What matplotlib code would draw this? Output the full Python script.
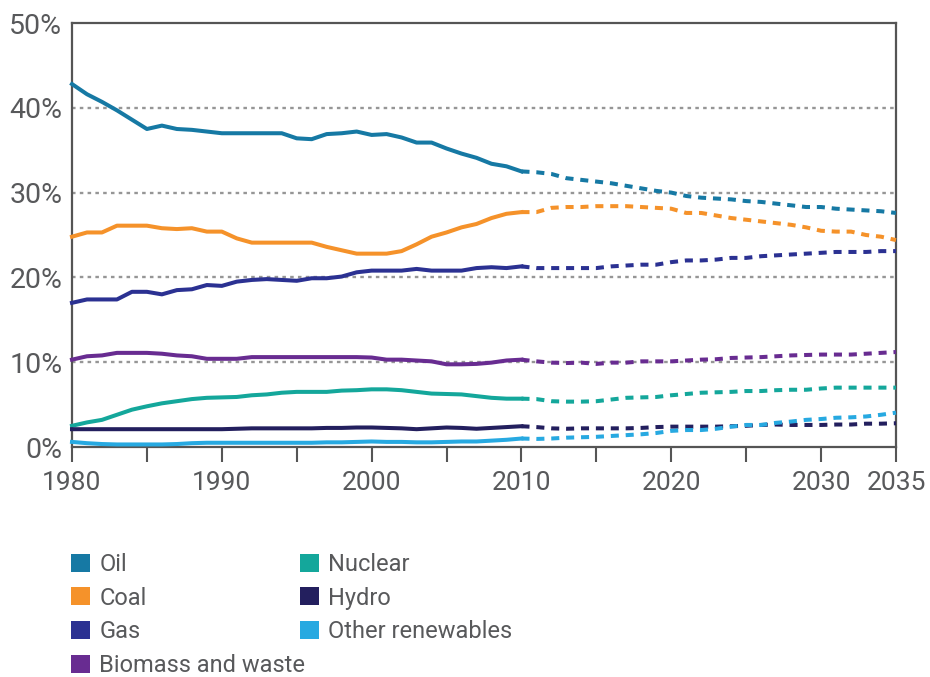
import numpy as np
import matplotlib
matplotlib.use("Agg")
import matplotlib.pyplot as plt
from matplotlib.patches import Patch

plt.rcParams["font.family"] = ["Roboto", "DejaVu Sans"]

# years
years_hist = np.arange(1980, 2011)
years_proj = np.arange(2010, 2036)

labels = ["Oil", "Coal", "Gas", "Biomass and waste", "Nuclear", "Hydro", "Other renewables"]
colors = ["#1679a4", "#f5922a", "#2b3192", "#682c91", "#14a79b", "#231f5e", "#27a9e1"]

# share of primary energy demand (%), 1980-2010
oil_hist = [42.8, 41.6, 40.7, 39.7, 38.6, 37.5, 37.9, 37.5, 37.4, 37.2,
            37.0, 37.0, 37.0, 37.0, 37.0, 36.4, 36.3, 36.9, 37.0, 37.2,
            36.8, 36.9, 36.5, 35.9, 35.9, 35.2, 34.6, 34.1, 33.4, 33.1, 32.5]
coal_hist = [24.8, 25.3, 25.3, 26.1, 26.1, 26.1, 25.8, 25.7, 25.8, 25.4,
             25.4, 24.6, 24.1, 24.1, 24.1, 24.1, 24.1, 23.6, 23.2, 22.8,
             22.8, 22.8, 23.1, 23.9, 24.8, 25.3, 25.9, 26.3, 27.0, 27.5, 27.7]
gas_hist = [17.0, 17.4, 17.4, 17.4, 18.3, 18.3, 18.0, 18.5, 18.6, 19.1,
            19.0, 19.5, 19.7, 19.8, 19.7, 19.6, 19.9, 19.9, 20.1, 20.6,
            20.8, 20.8, 20.8, 21.0, 20.8, 20.8, 20.8, 21.1, 21.2, 21.1, 21.3]
biomass_hist = [10.3, 10.7, 10.8, 11.1, 11.1, 11.1, 11.0, 10.8, 10.7, 10.4,
                10.4, 10.4, 10.6, 10.6, 10.6, 10.6, 10.6, 10.6, 10.6, 10.6,
                10.55, 10.3, 10.3, 10.2, 10.1, 9.75, 9.75, 9.8, 9.95, 10.2, 10.3]
nuclear_hist = [2.5, 2.9, 3.2, 3.8, 4.4, 4.8, 5.15, 5.4, 5.65, 5.8,
                5.85, 5.9, 6.1, 6.2, 6.4, 6.5, 6.5, 6.5, 6.65, 6.7,
                6.8, 6.8, 6.7, 6.5, 6.3, 6.25, 6.2, 6.0, 5.8, 5.7, 5.7]
hydro_hist = [2.1, 2.1, 2.1, 2.1, 2.1, 2.1, 2.1, 2.1, 2.1, 2.1,
              2.1, 2.15, 2.2, 2.2, 2.2, 2.2, 2.2, 2.25, 2.25, 2.3,
              2.3, 2.25, 2.2, 2.1, 2.2, 2.3, 2.25, 2.15, 2.25, 2.35, 2.45]
other_hist = [0.6, 0.45, 0.35, 0.3, 0.3, 0.3, 0.3, 0.35, 0.45, 0.5,
              0.5, 0.5, 0.5, 0.5, 0.5, 0.5, 0.5, 0.55, 0.55, 0.6,
              0.65, 0.6, 0.6, 0.55, 0.55, 0.6, 0.65, 0.65, 0.75, 0.85, 1.0]

# projections 2010-2035
oil_proj = [32.5, 32.4, 32.2, 31.7, 31.5, 31.3, 31.1, 30.8, 30.5, 30.2,
            30.0, 29.6, 29.4, 29.3, 29.2, 29.0, 28.9, 28.7, 28.5, 28.3,
            28.3, 28.1, 28.0, 27.9, 27.8, 27.6]
coal_proj = [27.7, 27.7, 28.2, 28.3, 28.3, 28.4, 28.4, 28.4, 28.3, 28.2,
             28.1, 27.6, 27.6, 27.3, 27.0, 26.8, 26.6, 26.4, 26.2, 25.9,
             25.5, 25.4, 25.4, 25.0, 24.8, 24.4]
gas_proj = [21.3, 21.1, 21.1, 21.1, 21.1, 21.1, 21.3, 21.4, 21.5, 21.5,
            21.8, 22.0, 22.0, 22.1, 22.3, 22.3, 22.5, 22.6, 22.7, 22.8,
            22.9, 23.0, 23.0, 23.0, 23.1, 23.1]
biomass_proj = [10.3, 10.1, 9.95, 9.9, 9.95, 9.8, 9.95, 9.95, 10.1, 10.1,
                10.1, 10.2, 10.3, 10.35, 10.5, 10.55, 10.6, 10.7, 10.8, 10.85,
                10.9, 10.9, 10.9, 11.0, 11.1, 11.2]
nuclear_proj = [5.7, 5.65, 5.4, 5.35, 5.35, 5.4, 5.6, 5.8, 5.85, 5.9,
                6.1, 6.25, 6.4, 6.45, 6.5, 6.6, 6.6, 6.7, 6.75, 6.75,
                6.9, 7.0, 7.0, 7.0, 7.0, 7.0]
hydro_proj = [2.45, 2.35, 2.2, 2.15, 2.2, 2.2, 2.2, 2.2, 2.25, 2.35,
              2.4, 2.4, 2.4, 2.4, 2.45, 2.5, 2.6, 2.65, 2.6, 2.6,
              2.6, 2.65, 2.65, 2.75, 2.75, 2.8]
other_proj = [1.0, 0.95, 1.0, 1.1, 1.15, 1.2, 1.3, 1.4, 1.5, 1.65,
              1.9, 2.0, 2.0, 2.15, 2.4, 2.6, 2.6, 2.85, 3.0, 3.2,
              3.3, 3.45, 3.5, 3.6, 3.8, 4.05]

hist = [oil_hist, coal_hist, gas_hist, biomass_hist, nuclear_hist, hydro_hist, other_hist]
proj = [oil_proj, coal_proj, gas_proj, biomass_proj, nuclear_proj, hydro_proj, other_proj]

x_ticks = [1980, 1985, 1990, 1995, 2000, 2005, 2010, 2015, 2020, 2025, 2030, 2035]
x_ticklabels = ["1980", "", "1990", "", "2000", "", "2010", "", "2020", "", "2030", "2035"]
y_ticks = [0, 10, 20, 30, 40, 50]
y_ticklabels = ["0%", "10%", "20%", "30%", "40%", "50%"]

text_col = "#58595b"
axis_col = "#555555"

fig = plt.figure(figsize=(9.3, 6.77), dpi=100)
ax = fig.add_axes([72 / 930, 1 - 447 / 677, 824 / 930, 424 / 677])

for yv in [10, 20, 30, 40]:
    ax.axhline(yv, color="#969696", lw=1.7, linestyle=(0, (1.5, 1.8)), zorder=1)

lw = 2.9
for h, p, c in zip(hist, proj, colors):
    ax.plot(years_hist, h, color=c, lw=lw, zorder=3, clip_on=False,
            solid_joinstyle="round")
    ax.plot(years_proj, p, color=c, lw=lw, zorder=3, linestyle=(0, (2.0, 1.7)),
            clip_on=False)

ax.set_xlim(1980, 2035)
ax.set_ylim(0, 50)
ax.set_xticks(x_ticks)
ax.set_xticklabels(x_ticklabels)
ax.set_yticks(y_ticks)
ax.set_yticklabels(y_ticklabels)

ax.tick_params(axis="x", direction="out", length=11, width=1.5, color=axis_col,
               labelsize=19, labelcolor=text_col, pad=6)
ax.tick_params(axis="y", length=0, labelsize=20.5, labelcolor=text_col, pad=7)

for s in ax.spines.values():
    s.set_color(axis_col)
    s.set_linewidth(1.6)

handles = [Patch(facecolor=c, edgecolor="none") for c in colors]
fig.legend(handles, labels, ncol=2, loc="upper left",
           bbox_to_anchor=(71 / 930, 1 - 553 / 677),
           frameon=False, fontsize=17, handlelength=0.8, handleheight=0.8,
           handletextpad=0.4, labelspacing=0.45, columnspacing=-0.24,
           borderpad=0, borderaxespad=0, labelcolor=text_col)

fig.savefig("out.png", dpi=100)
